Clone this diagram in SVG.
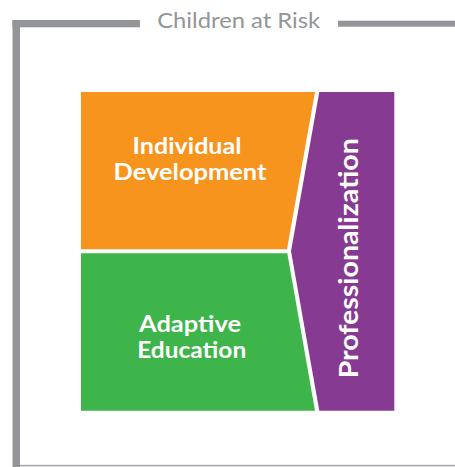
<svg xmlns="http://www.w3.org/2000/svg" width="455" height="467" viewBox="0 0 455 467">
  <style>
    .lbl { font-family: Lato, "Open Sans", "Liberation Sans", sans-serif; font-weight: bold; fill: #ffffff; text-anchor: middle; }
    .frame { fill: #939598; }
    .title { font-family: Lato, "Open Sans", "Liberation Sans", sans-serif; fill: #939598; text-anchor: middle; }
  </style>
  <rect width="455" height="467" fill="#ffffff"/>
  <g id="frame">
    <rect class="frame" x="12.5" y="20" width="7.5" height="447"/>
    <rect class="frame" x="12.5" y="20" width="127.5" height="7.3"/>
    <rect class="frame" x="338" y="20.7" width="117" height="6"/>
    <rect x="20" y="464.8" width="435" height="1.6" fill="#a7a9ac"/>
    <text class="title" x="238.7" y="28.3" font-size="22" textLength="163" lengthAdjust="spacingAndGlyphs">Children at Risk</text>
  </g>
  <g id="individual-development">
    <polygon points="81,92 315,92 287,249.3 81,249.3" fill="#f7941d"/>
    <text class="lbl" x="187" y="154" font-size="23" textLength="109" lengthAdjust="spacingAndGlyphs">Individual</text>
    <text class="lbl" x="190" y="180" font-size="23" textLength="153" lengthAdjust="spacingAndGlyphs">Development</text>
  </g>
  <g id="adaptive-education">
    <polygon points="81,253.3 287.3,253.3 315,410.7 81,410.7" fill="#3db54a"/>
    <text class="lbl" x="190" y="332.3" font-size="23" textLength="102" lengthAdjust="spacingAndGlyphs">Adaptive</text>
    <text class="lbl" x="191.7" y="358.3" font-size="23" textLength="109" lengthAdjust="spacingAndGlyphs">Education</text>
  </g>
  <g id="professionalization">
    <polygon points="319.3,92 394.3,92 394.3,410.7 319.3,410.7 291,251.3" fill="#873a92"/>
    <text class="lbl" transform="translate(357.6,258.3) rotate(-90)" x="0" y="0" font-size="26" textLength="240" lengthAdjust="spacingAndGlyphs">Professionalization</text>
  </g>
  <g id="connectors"/>
</svg>
